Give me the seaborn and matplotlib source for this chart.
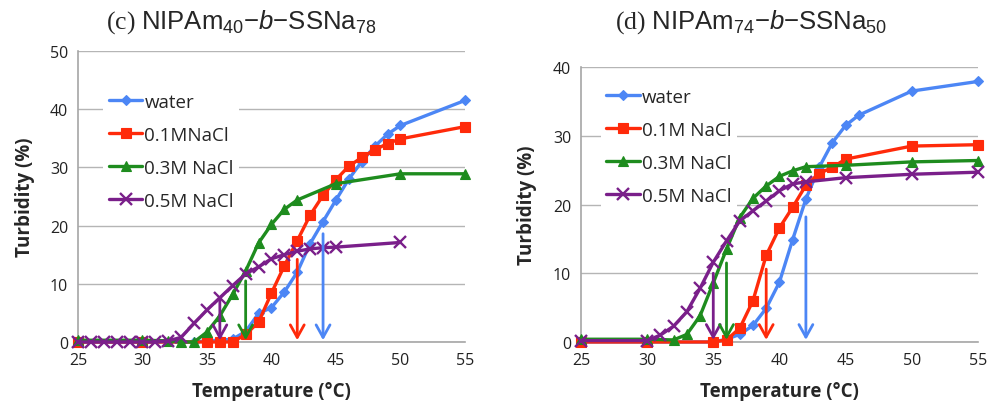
import matplotlib
matplotlib.use("Agg")
import matplotlib.pyplot as plt
import seaborn as sns

# (c) NIPAm40-b-SSNa78
c_water_t = [25, 30, 34, 35, 36, 37, 38, 39, 40, 41, 42, 43, 44, 45, 46, 47, 48, 49, 50, 55]
c_water_y = [0, 0, 0, 0.2, 0.3, 0.5, 1.8, 4.9, 5.9, 8.6, 12.0, 16.9, 20.7, 24.4, 28.0, 31.0, 33.6, 35.7, 37.2, 41.5]
c_01_t = [25, 30, 35, 36, 37, 38, 39, 40, 41, 42, 43, 44, 45, 46, 47, 48, 49, 50, 55]
c_01_y = [0, 0, 0, 0, 0, 1.3, 3.4, 8.4, 13.1, 17.4, 21.8, 25.2, 27.9, 30.2, 31.7, 33.0, 34.1, 34.9, 37.0]
c_03_t = [25, 30, 32, 33, 34, 35, 36, 37, 38, 39, 40, 41, 42, 45, 50, 55]
c_03_y = [0.3, 0.3, 0.2, 0, 0, 1.7, 4.5, 8.2, 12.2, 17.0, 20.2, 22.8, 24.4, 27.2, 28.9, 28.9]
c_05_t = [25, 26, 27, 28, 29, 30, 31, 32, 33, 34, 35, 36, 37, 38, 39, 40, 41, 42, 43, 44, 45, 50]
c_05_y = [0, 0, 0, 0, 0, 0, 0, 0.2, 0.8, 3.2, 5.5, 7.6, 9.7, 11.7, 12.9, 14.3, 15.0, 15.6, 16.0, 16.2, 16.3, 17.1]
c_arrow_t = [36, 38, 42, 44]
c_arrow_top = [7.6, 10.5, 14.2, 18.6]
c_labels = ["water", "0.1MNaCl", "0.3M NaCl", "0.5M NaCl"]

# (d) NIPAm74-b-SSNa50
d_water_t = [25, 30, 35, 36, 37, 38, 39, 40, 41, 42, 43, 44, 45, 46, 50, 55]
d_water_y = [0, 0, 0, 0.4, 1.1, 2.4, 4.9, 8.7, 14.9, 20.8, 25.4, 29.0, 31.5, 33.0, 36.5, 37.9]
d_01_t = [25, 30, 35, 36, 37, 38, 39, 40, 41, 42, 43, 44, 45, 50, 55]
d_01_y = [0, 0, 0, 0.3, 2.0, 6.0, 12.6, 16.6, 19.6, 22.8, 24.5, 25.4, 26.6, 28.5, 28.7]
d_03_t = [25, 30, 32, 33, 34, 35, 36, 37, 38, 39, 40, 41, 42, 45, 50, 55]
d_03_y = [0.4, 0.4, 0.3, 1.1, 3.8, 8.6, 13.5, 18.1, 20.9, 22.7, 24.1, 24.9, 25.5, 25.7, 26.2, 26.4]
d_05_t = [25, 30, 31, 32, 33, 34, 35, 36, 37, 38, 39, 40, 41, 42, 45, 50, 55]
d_05_y = [0.2, 0.2, 1.0, 2.3, 4.4, 7.8, 11.6, 14.7, 17.6, 19.1, 20.5, 22.0, 23.0, 23.3, 23.9, 24.4, 24.7]
d_arrow_t = [35, 36, 39, 42]
d_arrow_top = [10.0, 11.5, 10.6, 18.2]
d_labels = ["water", "0.1M NaCl", "0.3M NaCl", "0.5M NaCl"]

colors = ["#4C86F5", "#FF2A0A", "#1E8C1E", "#7A1F8A"]
markers = ["D", "s", "^", "x"]
msizes = [5, 7.5, 7, 8]
arrow_colors = [colors[3], colors[2], colors[1], colors[0]]

sns.set_style("white")
plt.rcParams["font.family"] = ["Open Sans", "DejaVu Sans"]
plt.rcParams["mathtext.fontset"] = "custom"
plt.rcParams["mathtext.rm"] = "Liberation Sans"
plt.rcParams["mathtext.it"] = "Liberation Sans:italic"

fig = plt.figure(figsize=(9.88, 4.02), dpi=100)
ax1 = fig.add_axes([0.0789, 0.1468, 0.3917, 0.7239])
ax2 = fig.add_axes([0.588, 0.1468, 0.4018, 0.684])


def draw(ax, series, labels, ymax, arrow_t, arrow_top, leg_xy):
    for (t, y), lab, c, m, ms in zip(series, labels, colors, markers, msizes):
        sns.lineplot(x=t, y=y, ax=ax, color=c, marker=m, markersize=ms,
                     markeredgecolor=c, markeredgewidth=1.7 if m == "x" else 0.8,
                     linewidth=2.4, label=lab, clip_on=False, zorder=3)
    for xa, top, c in zip(arrow_t, arrow_top, arrow_colors):
        ax.annotate("", xy=(xa, 0.3), xytext=(xa, top),
                    arrowprops=dict(arrowstyle="->,head_length=0.9,head_width=0.5",
                                    color=c, lw=2.0, shrinkA=0, shrinkB=0), zorder=4)
    ax.set_xlim(25, 55)
    ax.set_ylim(0, ymax)
    ax.set_xticks(range(25, 56, 5))
    ax.set_yticks(range(0, ymax + 1, 10))
    ax.yaxis.grid(True, color="#B5B5B5", lw=1)
    ax.set_axisbelow(True)
    for s in ["top", "right"]:
        ax.spines[s].set_visible(False)
    for s in ["left", "bottom"]:
        ax.spines[s].set_color("#A6A6A6")
        ax.spines[s].set_linewidth(1.2)
    ax.tick_params(axis="both", which="major", labelsize=11.5, colors="#A6A6A6",
                   labelcolor="#222222", length=4, width=1, direction="out", pad=3)
    ax.set_xlabel("Temperature (°C)", fontsize=13.5, fontweight="bold")
    ax.set_ylabel("Turbidity (%)", fontsize=13.5, fontweight="bold")
    leg = ax.legend(loc="upper left", bbox_to_anchor=leg_xy, fontsize=13.5,
                    frameon=True, facecolor="white", edgecolor="none", framealpha=1,
                    handlelength=1.8, handletextpad=0.1, labelspacing=0.8,
                    borderpad=0.3, borderaxespad=0)
    leg.set_zorder(2)


draw(ax1, [(c_water_t, c_water_y), (c_01_t, c_01_y), (c_03_t, c_03_y), (c_05_t, c_05_y)],
     c_labels, 50, c_arrow_t, c_arrow_top, (0.065, 0.875))
draw(ax2, [(d_water_t, d_water_y), (d_01_t, d_01_y), (d_03_t, d_03_y), (d_05_t, d_05_y)],
     d_labels, 40, d_arrow_t, d_arrow_top, (0.05, 0.945))

ax1.xaxis.set_label_coords(0.5, -0.135)
ax2.xaxis.set_label_coords(0.5, -0.142)
ax1.yaxis.set_label_coords(-0.112, 0.5)
ax2.yaxis.set_label_coords(-0.11, 0.5)

fig.text(0.244, 0.945, r"(c) $\mathrm{NIPAm_{40}{-}}\mathit{b}\mathrm{{-}SSNa_{78}}$",
         family="Liberation Serif", fontsize=18.5, ha="center", va="center")
fig.text(0.760, 0.945, r"(d) $\mathrm{NIPAm_{74}{-}}\mathit{b}\mathrm{{-}SSNa_{50}}$",
         family="Liberation Serif", fontsize=18.5, ha="center", va="center")

fig.savefig("out.png", dpi=100)
